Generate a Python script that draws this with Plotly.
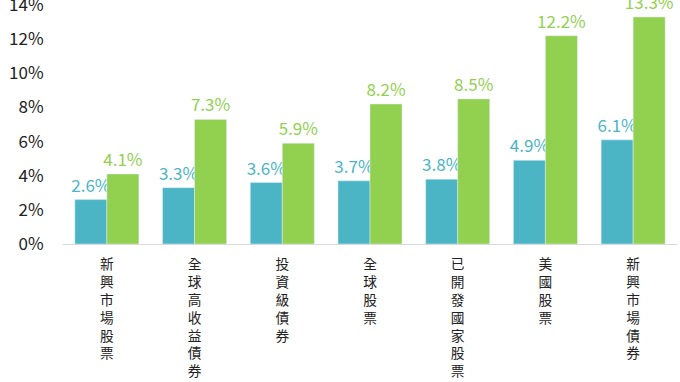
import plotly.graph_objects as go

categories = ["新興市場股票", "全球高收益債券", "投資級債券", "全球股票", "已開發國家股票", "美國股票", "新興市場債券"]
series_a = [2.6, 3.3, 3.6, 3.7, 3.8, 4.9, 6.1]
series_b = [4.1, 7.3, 5.9, 8.2, 8.5, 12.2, 13.3]
y_ticks = [0, 2, 4, 6, 8, 10, 12, 14]

blue = "#4BB5C6"
green = "#92D050"
font_family = "Noto Sans CJK TC, Open Sans, sans-serif"

tick_text = ["<br>".join(list(c)) for c in categories]

fig = go.Figure()
fig.add_trace(go.Bar(
    x=categories, y=series_a, marker_color=blue,
    text=[f"{v:.1f}%" for v in series_a], textposition="outside",
    textfont=dict(color=blue, size=17, family=font_family),
    constraintext="none", cliponaxis=False,
))
fig.add_trace(go.Bar(
    x=categories, y=series_b, marker_color=green,
    text=[f"{v:.1f}%" for v in series_b], textposition="outside",
    textfont=dict(color=green, size=17, family=font_family),
    constraintext="none", cliponaxis=False,
))

fig.update_layout(
    width=680, height=382,
    margin=dict(l=63, r=3, t=5, b=138),
    barmode="group", bargap=0.27, bargroupgap=0,
    showlegend=False,
    plot_bgcolor="white", paper_bgcolor="white",
    font=dict(family=font_family, color="#222222"),
    xaxis=dict(
        tickmode="array", tickvals=categories, ticktext=tick_text,
        tickfont=dict(size=13.7, color="#222222"),
        showline=True, linecolor="#D9D9D9", linewidth=1,
        ticks="outside", ticklen=8, tickcolor="rgba(0,0,0,0)",
        showgrid=False, automargin=False,
    ),
    yaxis=dict(
        range=[0, 14], tickmode="array", tickvals=y_ticks,
        ticktext=[f"{t}%" for t in y_ticks],
        tickfont=dict(size=17, color="#222222"),
        showgrid=False, zeroline=False, showline=False,
        ticks="outside", ticklen=15, tickcolor="rgba(0,0,0,0)",
        automargin=False, ticklabeloverflow="allow",
    ),
)

fig.write_html("out.html")
